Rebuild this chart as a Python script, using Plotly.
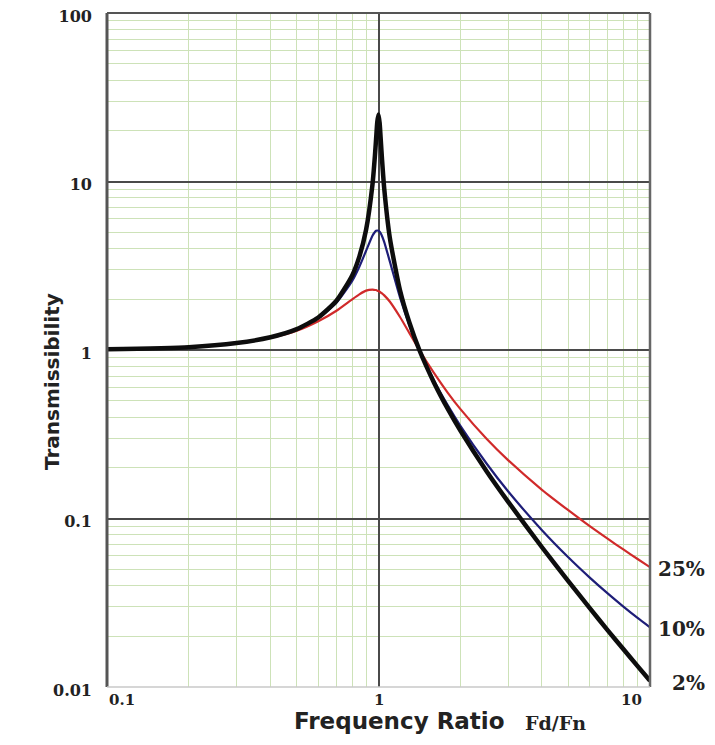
import math
import plotly.graph_objects as go

# Frequency ratio (Fd/Fn) sample points
ratio = [0.1, 0.2, 0.3, 0.4, 0.5, 0.6, 0.7, 0.8, 0.85, 0.9, 0.95, 0.97, 0.98, 0.99, 1.0,
         1.01, 1.02, 1.03, 1.05, 1.1, 1.2, 1.3, 1.414, 1.6, 1.8, 2.0, 2.5, 3.0, 4.0,
         5.0, 6.0, 7.0, 8.0, 9.0, 10.0]

# Transmissibility read for each damping ratio
t_2pct = [1.01, 1.04, 1.10, 1.19, 1.33, 1.56, 1.96, 2.77, 3.58, 5.17, 9.56, 14.2, 18.0, 22.6, 25.0,
          22.2, 17.4, 13.6, 9.04, 4.67, 2.26, 1.45, 1.0, 0.642, 0.447, 0.334, 0.191, 0.126, 0.0675,
          0.0425, 0.0294, 0.0216, 0.0167, 0.0133, 0.0109]
t_10pct = [1.01, 1.04, 1.10, 1.19, 1.33, 1.55, 1.91, 2.57, 3.12, 3.88, 4.77, 5.02, 5.10, 5.12, 5.10,
           5.03, 4.91, 4.75, 4.37, 3.37, 2.05, 1.40, 1.0, 0.659, 0.469, 0.356, 0.212, 0.145, 0.0853,
           0.0589, 0.0446, 0.0358, 0.0299, 0.0257, 0.0226]
t_25pct = [1.01, 1.04, 1.10, 1.18, 1.30, 1.48, 1.71, 2.00, 2.14, 2.25, 2.28, 2.27, 2.27, 2.25, 2.24,
           2.22, 2.19, 2.17, 2.11, 1.94, 1.57, 1.26, 1.0, 0.731, 0.557, 0.447, 0.297, 0.222, 0.148,
           0.112, 0.090, 0.0756, 0.0653, 0.0575, 0.0514]

series = [("25%", t_25pct, "#d02a2a", 2.2),
          ("10%", t_10pct, "#1e1e78", 2.2),
          ("2%", t_2pct, "#0d0d0d", 4.5)]

y_tick_vals = [0.01, 0.1, 1, 10, 100]
y_tick_text = ["0.01", "0.1", "1", "10", "100"]
x_tick_labels = [(0.1, "0.1"), (1, "1"), (10, "10")]

fig = go.Figure()
for name, vals, color, w in series:
    fig.add_trace(go.Scatter(x=ratio, y=vals, mode="lines", name=name,
                             line=dict(color=color, width=w, shape="spline", smoothing=0.6),
                             showlegend=False, hoverinfo="x+y"))

grid_major = "#4a4a4a"
grid_minor = "#cde2b8"
serif = "DejaVu Serif, serif"
sans = "DejaVu Sans, sans-serif"

fig.update_xaxes(type="log", range=[-1, 1], dtick=1, showgrid=True, gridcolor=grid_major, gridwidth=2,
                 showticklabels=False, ticks="", zeroline=False, showline=False, automargin=False,
                 minor=dict(dtick="D1", showgrid=True, gridcolor=grid_minor, gridwidth=1, ticks=""))
fig.update_yaxes(type="log", range=[-2, 2], tickvals=y_tick_vals,
                 ticktext=["<b>" + t + "</b>" for t in y_tick_text],
                 showgrid=True, gridcolor=grid_major, gridwidth=2, ticks="", zeroline=False,
                 showline=False, ticklabelstandoff=14, automargin=False,
                 ticklabeloverflow="allow", ticklabelshift=3,
                 tickfont=dict(family=serif, size=16, color="#222"),
                 minor=dict(dtick="D1", showgrid=True, gridcolor=grid_minor, gridwidth=1, ticks=""))

# plot frame: dark left/top/right, light bottom
for (x0, y0, x1, y1, c, w) in [(0, 0, 0, 1, "#555", 3), (0, 1, 1, 1, "#555", 2),
                               (1, 0, 1, 1, "#666", 2.5), (0, 0, 1, 0, "#c9c9c9", 1.5)]:
    fig.add_shape(type="line", xref="paper", yref="paper", x0=x0, y0=y0, x1=x1, y1=y1,
                  line=dict(color=c, width=w))

anns = []
for val, txt in x_tick_labels:
    if val == 0.1:
        xa, xs = "left", 0
    elif val == 10:
        xa, xs = "right", -6
    else:
        xa, xs = "center", 0
    anns.append(dict(x=math.log10(val), y=0, xref="x", yref="paper", text="<b>" + txt + "</b>",
                     showarrow=False, xanchor=xa, yanchor="top", yshift=-2, xshift=xs,
                     font=dict(family=serif, size=15, color="#222")))

for name, vals, color, w in series:
    anns.append(dict(x=1, y=math.log10(vals[-1]), xref="paper", yref="y", text="<b>" + name + "</b>",
                     showarrow=False, xanchor="right", yanchor="middle", xshift=57, yshift=-2,
                     font=dict(family=serif, size=20, color="#222")))

anns.append(dict(x=0.538, y=0, xref="paper", yref="paper", yanchor="middle", xanchor="center",
                 yshift=-34, showarrow=False, text="<b>Frequency Ratio</b>",
                 font=dict(family=sans, size=23, color="#222")))
anns.append(dict(x=0.826, y=0, xref="paper", yref="paper", yanchor="middle", xanchor="center",
                 yshift=-36, showarrow=False, text="<b>Fd/Fn</b>",
                 font=dict(family=serif, size=19, color="#222")))
anns.append(dict(x=0, y=0.5, xref="paper", yref="paper", xanchor="center", yanchor="middle",
                 xshift=-55, yshift=-32, textangle=-90, showarrow=False,
                 text="<b>Transmissibility</b>", font=dict(family=sans, size=20, color="#222")))

# the page adds an 8px body margin, so the figure is sized to fit inside 715x745
fig.update_layout(width=707, height=737, margin=dict(l=99, r=65, t=5, b=58, autoexpand=False),
                  paper_bgcolor="white", plot_bgcolor="white", annotations=anns,
                  font=dict(family=serif, color="#222"))

fig.write_html("out.html")
